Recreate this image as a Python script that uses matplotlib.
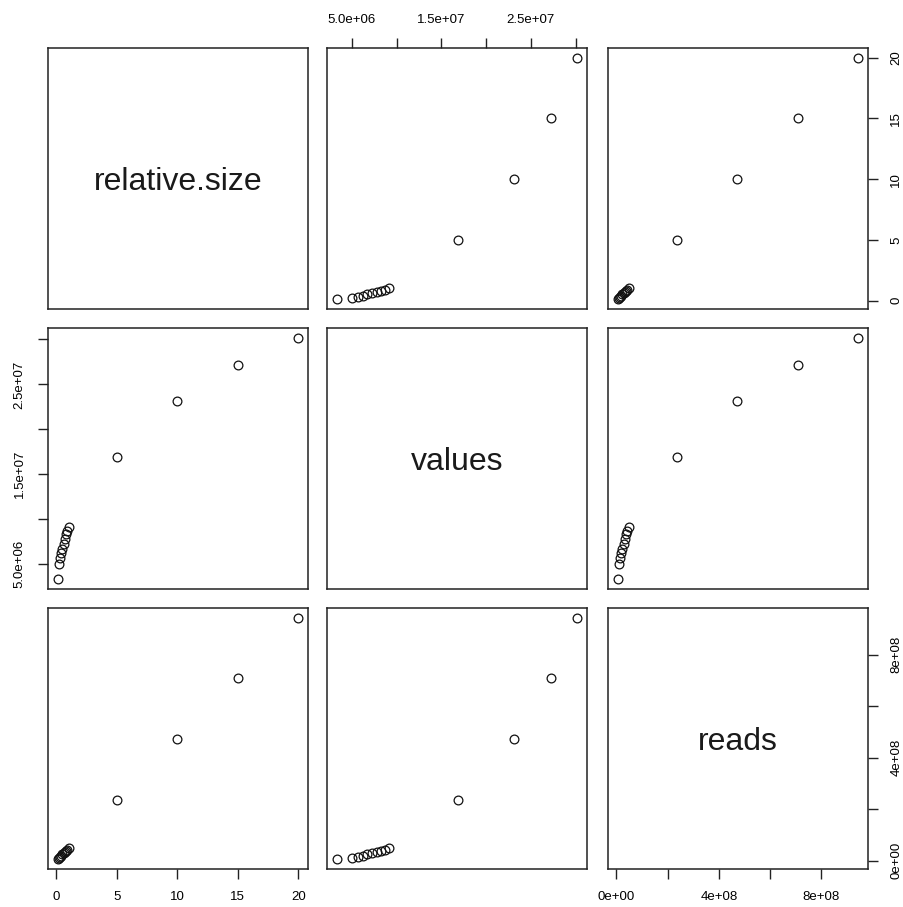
import numpy as np
import matplotlib.pyplot as plt

plt.rcParams['font.family'] = ['Liberation Sans', 'DejaVu Sans']

names = ['relative.size', 'values', 'reads']
relative_size = [0.1, 0.2, 0.3, 0.4, 0.5, 0.6, 0.7, 0.8, 0.9, 1.0, 5, 10, 15, 20]
values = [3.3e6, 5.0e6, 5.7e6, 6.2e6, 6.7e6, 7.2e6, 7.8e6, 8.3e6, 8.7e6, 9.1e6,
          1.69e7, 2.31e7, 2.72e7, 3.02e7]
reads = [4.7e6, 9.4e6, 1.42e7, 1.89e7, 2.36e7, 2.83e7, 3.3e7, 3.78e7, 4.25e7, 4.72e7,
         2.36e8, 4.72e8, 7.08e8, 9.44e8]

tick_pos = [[0, 5, 10, 15, 20],
            [5e6, 1e7, 1.5e7, 2e7, 2.5e7, 3e7],
            [0, 2e8, 4e8, 6e8, 8e8]]
tick_lab = [['0', '5', '10', '15', '20'],
            ['5.0e+06', '', '1.5e+07', '', '2.5e+07', ''],
            ['0e+00', '', '4e+08', '', '8e+08']]

data = [np.array(relative_size), np.array(values), np.array(reads)]

W, H = 904, 907
lefts = [48, 327, 608]
tops = [48, 328, 608]
pw, ph = 260, 261


def lims(v):
    r = v.max() - v.min()
    return v.min() - 0.04 * r, v.max() + 0.04 * r


fig = plt.figure(figsize=(W / 100, H / 100), dpi=100)
for i in range(3):
    for j in range(3):
        ax = fig.add_axes([lefts[j] / W, 1 - (tops[i] + ph) / H, pw / W, ph / H])
        ax.set_xlim(*lims(data[j]))
        ax.set_ylim(*lims(data[i]))
        for s in ax.spines.values():
            s.set_linewidth(1.1)
            s.set_color('#222222')
        ax.tick_params(length=7, width=1, color='#222222', labelsize=9.5, pad=9)
        ax.set_xticks([])
        ax.set_yticks([])
        if i == j:
            ax.text(0.5, 0.485, names[i], transform=ax.transAxes, ha='center',
                    va='center', fontsize=23, color='#1a1a1a')
        else:
            ax.plot(data[j], data[i], 'o', mfc='none', mec='#111111', ms=6.3, mew=0.9)
        # axes on alternating sides, like R's pairs()
        if i == 0 and j == 1:
            ax.set_xticks(tick_pos[j], tick_lab[j])
            ax.xaxis.tick_top()
        if i == 2 and j in (0, 2):
            ax.set_xticks(tick_pos[j], tick_lab[j])
        if j == 2 and i in (0, 2):
            ax.set_yticks(tick_pos[i], tick_lab[i])
            ax.yaxis.tick_right()
            for t in ax.get_yticklabels():
                t.set_rotation(90)
                t.set_va('center')
        if j == 0 and i == 1:
            ax.set_yticks(tick_pos[i], tick_lab[i])
            for t in ax.get_yticklabels():
                t.set_rotation(90)
                t.set_va('center')

plt.savefig('out.png', dpi=100)
